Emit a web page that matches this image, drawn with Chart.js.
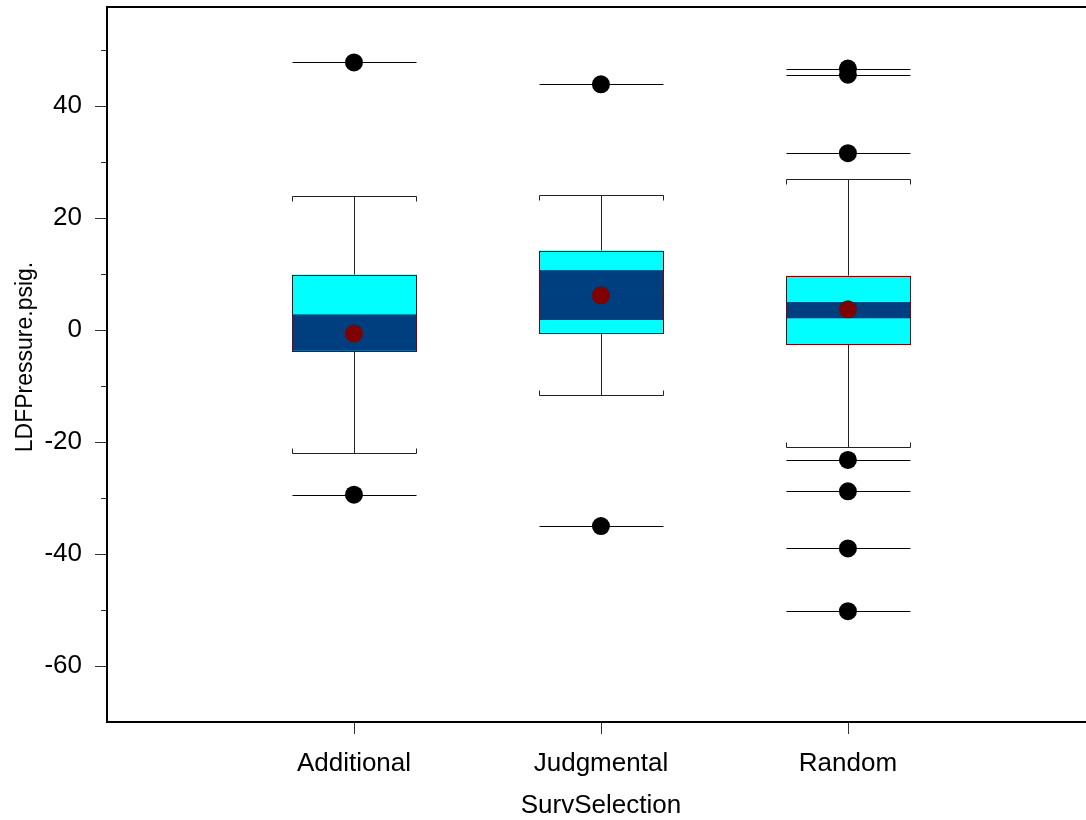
<!DOCTYPE html>
<html><head><meta charset="utf-8">
<script src="https://cdn.jsdelivr.net/npm/chart.js@4.4.1/dist/chart.umd.min.js"></script>
<style>html,body{margin:0;padding:0;overflow:hidden;background:#fff}</style>
</head><body>
<canvas id="c" width="1086" height="820"></canvas>
<script>
// Box plot of LDF pressure by survey selection type
const categories = ['Additional', 'Judgmental', 'Random'];
const whiskerLow = [-22.0, -11.6, -20.9];
const q1 = [-3.7, -0.5, -2.5];
const median = [-0.6, 6.2, 3.7];
const q3 = [9.9, 14.2, 9.7];
const whiskerHigh = [24.0, 24.2, 27.0];
const notchLow = [-4.0, 1.8, 2.1];
const notchHigh = [2.8, 10.7, 5.0];
const means = [-0.6, 6.2, 3.7];
const outliers = [
  [47.8, -29.4],
  [43.9, -35.0],
  [46.7, 45.6, 31.6, -23.2, -28.8, -39.0, -50.2]
];
const majorTicks = [-60, -40, -20, 0, 20, 40];
const minorTicks = [-50, -30, -10, 10, 30, 50];
const xTitle = 'SurvSelection';
const yTitle = 'LDFPressure.psig.';

const HALF = 0.25;
const FONT = "'Liberation Sans', Arial, sans-serif";

const crisp = v => Math.round(v) + 0.5;

const boxPlugin = {
  id: 'boxes',
  beforeDatasetsDraw(chart) {
    const {ctx, scales: {x, y}} = chart;
    ctx.save();
    ctx.lineWidth = 1;
    categories.forEach((c, i) => {
      const xl = crisp(x.getPixelForValue(i + 1 - HALF));
      const xr = crisp(x.getPixelForValue(i + 1 + HALF));
      const xc = crisp(x.getPixelForValue(i + 1));
      const yq1 = y.getPixelForValue(q1[i]);
      const yq3 = y.getPixelForValue(q3[i]);
      // whiskers
      ctx.strokeStyle = '#222';
      ctx.beginPath();
      ctx.moveTo(xc, crisp(y.getPixelForValue(whiskerHigh[i])));
      ctx.lineTo(xc, yq3);
      ctx.moveTo(xc, yq1);
      ctx.lineTo(xc, crisp(y.getPixelForValue(whiskerLow[i])));
      ctx.stroke();
      // caps with short end ticks pointing toward the box
      [[whiskerHigh[i], 5], [whiskerLow[i], -5]].forEach(([v, d]) => {
        const yy = crisp(y.getPixelForValue(v));
        ctx.beginPath();
        ctx.moveTo(xl, yy + d);
        ctx.lineTo(xl, yy);
        ctx.lineTo(xr, yy);
        ctx.lineTo(xr, yy + d);
        ctx.stroke();
      });
      // box body
      ctx.fillStyle = '#00ffff';
      ctx.fillRect(xl, yq3, xr - xl, yq1 - yq3);
      const nHi = y.getPixelForValue(Math.min(notchHigh[i], q3[i]));
      const nLo = y.getPixelForValue(Math.max(notchLow[i], q1[i]));
      ctx.fillStyle = '#003f7f';
      ctx.fillRect(xl, nHi, xr - xl, nLo - nHi);
      // median
      const ym = crisp(y.getPixelForValue(median[i]));
      ctx.strokeStyle = '#7a1426';
      ctx.beginPath();
      ctx.moveTo(xl, ym);
      ctx.lineTo(xr, ym);
      ctx.stroke();
      // outline
      ctx.strokeStyle = '#800000';
      ctx.strokeRect(xl, crisp(yq3), xr - xl, crisp(yq1) - crisp(yq3));
      // outlier lines
      ctx.strokeStyle = '#000';
      outliers[i].forEach(v => {
        const yo = crisp(y.getPixelForValue(v));
        ctx.beginPath();
        ctx.moveTo(xl, yo);
        ctx.lineTo(xr, yo);
        ctx.stroke();
      });
    });
    ctx.restore();
  },
  afterDraw(chart) {
    const {ctx, chartArea: a, scales: {x, y}} = chart;
    ctx.save();
    // tick marks
    ctx.strokeStyle = '#333';
    ctx.lineWidth = 1;
    ctx.beginPath();
    majorTicks.forEach(v => {
      const yy = crisp(y.getPixelForValue(v));
      ctx.moveTo(a.left - 12, yy);
      ctx.lineTo(a.left, yy);
    });
    minorTicks.forEach(v => {
      const yy = crisp(y.getPixelForValue(v));
      ctx.moveTo(a.left - 6, yy);
      ctx.lineTo(a.left, yy);
    });
    categories.forEach((c, i) => {
      const xx = crisp(x.getPixelForValue(i + 1));
      ctx.moveTo(xx, a.bottom);
      ctx.lineTo(xx, a.bottom + 12);
    });
    ctx.stroke();
    // frame: left, top and bottom
    ctx.strokeStyle = '#000';
    ctx.lineWidth = 2;
    ctx.beginPath();
    ctx.moveTo(chart.width, a.top);
    ctx.lineTo(a.left, a.top);
    ctx.lineTo(a.left, a.bottom);
    ctx.lineTo(chart.width, a.bottom);
    ctx.stroke();
    // axis titles
    ctx.fillStyle = '#000';
    ctx.textAlign = 'center';
    ctx.textBaseline = 'alphabetic';
    ctx.font = '26px ' + FONT;
    ctx.fillText(xTitle, x.getPixelForValue(2), 813);
    ctx.translate(32, 357);
    ctx.rotate(-Math.PI / 2);
    ctx.font = '23px ' + FONT;
    ctx.fillText(yTitle, 0, 0);
    ctx.restore();
  }
};

const outlierPoints = [];
outliers.forEach((list, i) => list.forEach(v => outlierPoints.push({x: i + 1, y: v})));
const meanPoints = means.map((v, i) => ({x: i + 1, y: v}));

function noPad(s) {
  s.paddingTop = 0; s.paddingBottom = 0; s.paddingLeft = 0; s.paddingRight = 0;
}

new Chart(document.getElementById('c'), {
  type: 'scatter',
  data: {
    datasets: [
      {label: 'Outliers', data: outlierPoints, backgroundColor: '#000', borderColor: '#000',
       pointRadius: 9, pointBorderWidth: 0},
      {label: 'Mean', data: meanPoints, backgroundColor: '#800000', borderColor: '#800000',
       pointRadius: 9, pointBorderWidth: 0}
    ]
  },
  options: {
    responsive: false,
    animation: false,
    layout: {autoPadding: false, padding: {top: 7, left: 0, right: 0, bottom: 0}},
    plugins: {legend: {display: false}, tooltip: {enabled: false}},
    scales: {
      x: {
        // the plot runs a little past the right edge of the canvas
        type: 'linear', min: 0, max: 3.964,
        afterFit(s) { s.height = 98; noPad(s); },
        afterBuildTicks(s) { s.ticks = categories.map((c, i) => ({value: i + 1})); },
        grid: {display: true, drawOnChartArea: false, drawTicks: true, tickLength: 12, color: 'rgba(0,0,0,0)'},
        border: {display: false},
        ticks: {
          padding: 14, color: '#000', font: {family: FONT, size: 26},
          maxRotation: 0, autoSkip: false,
          callback: v => categories[v - 1] || ''
        },
        title: {display: false}
      },
      y: {
        type: 'linear', min: -70, max: 57.7,
        afterFit(s) { s.width = 107; noPad(s); },
        afterBuildTicks(s) { s.ticks = majorTicks.map(v => ({value: v})); },
        grid: {display: true, drawOnChartArea: false, drawTicks: true, tickLength: 12, color: 'rgba(0,0,0,0)'},
        border: {display: false},
        ticks: {padding: 13, color: '#000', font: {family: FONT, size: 26}},
        title: {display: false}
      }
    }
  },
  plugins: [boxPlugin]
});
</script>
</body></html>
